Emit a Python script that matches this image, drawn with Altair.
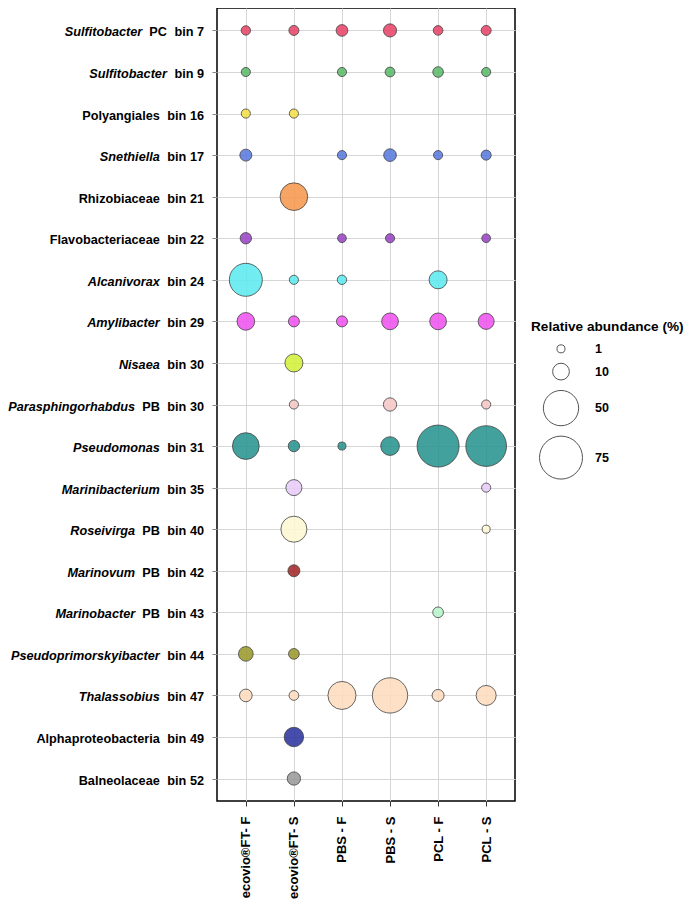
import altair as alt
import pandas as pd

samples = ["ecovio®FT- F", "ecovio®FT- S", "PBS - F", "PBS - S", "PCL - F", "PCL - S"]

names = ["Sulfitobacter", "Sulfitobacter", "Polyangiales", "Snethiella", "Rhizobiaceae",
         "Flavobacteriaceae", "Alcanivorax", "Amylibacter", "Nisaea", "Parasphingorhabdus",
         "Pseudomonas", "Marinibacterium", "Roseivirga", "Marinovum", "Marinobacter",
         "Pseudoprimorskyibacter", "Thalassobius", "Alphaproteobacteria", "Balneolaceae"]
quals = ["PC", "", "", "", "", "", "", "", "", "PB", "", "", "PB", "PB", "PB", "", "", "", ""]
bins = ["bin 7", "bin 9", "bin 16", "bin 17", "bin 21", "bin 22", "bin 24", "bin 29", "bin 30",
        "bin 30", "bin 31", "bin 35", "bin 40", "bin 42", "bin 43", "bin 44", "bin 47", "bin 49", "bin 52"]
italic = [True, True, False, True, False, False, True, True, True, True, True, True, True, True,
          True, True, True, False, False]
colors = ["#E8456A", "#5DBB6C", "#F5E14C", "#5B7CE0", "#F7994F", "#9B46C8", "#5EEAF0", "#EE55EE",
          "#D3F03C", "#F6C8C8", "#2A9590", "#E8CCF8", "#FDF9D3", "#A52A2A", "#B8F6CC", "#9C9A2E",
          "#FDDCBE", "#2E35A0", "#9A9A9A"]

ecovio_ft_f = [2.0, 1.8, 1.8, 4.3, None, 3.7, 43.5, 11.3, None, None, 28.0, None, None, None, None, 7.3, 5.0, None, None]
ecovio_ft_s = [2.5, None, 1.8, None, 30.0, None, 1.8, 3.4, 11.8, 1.8, 3.7, 9.0, 26.4, 4.3, None, 3.1, 2.3, 14.0, 5.7]
pbs_f = [4.0, 1.8, None, 1.8, None, 1.5, 2.0, 3.4, None, None, 1.0, None, None, None, None, None, 31.0, None, None]
pbs_s = [5.5, 2.3, None, 5.0, None, 1.8, None, 10.0, None, 5.7, 12.8, None, None, None, None, None, 50.0, None, None]
pcl_f = [2.2, 3.0, None, 1.8, None, None, 11.8, 10.0, None, None, 71.5, None, None, None, 3.1, None, 4.3, None, None]
pcl_s = [2.5, 1.8, None, 2.5, None, 1.5, None, 9.0, None, 1.8, 67.0, 1.8, 1.0, None, None, None, 15.0, None, None]
series = [ecovio_ft_f, ecovio_ft_s, pbs_f, pbs_s, pcl_f, pcl_s]

legend_values = [1, 10, 50, 75]

keys = [f"{n} {q} {b}".replace("  ", " ") for n, q, b in zip(names, quals, bins)]

rows = []
for s, vals in zip(samples, series):
    for k, v in zip(keys, vals):
        if v is not None:
            rows.append({"taxon": k, "sample": s, "abundance": v})
df = pd.DataFrame(rows)

lab = pd.DataFrame({"taxon": keys, "name": names, "qual": quals, "bin": bins, "italic": italic})

FS = 12.7
W, H = 298, 793
FONT = "Liberation Sans"

yenc = alt.Y("taxon:N", sort=keys, scale=alt.Scale(type="point", padding=0.54),
             axis=alt.Axis(labels=False, title=None, ticks=True, tickSize=5, tickColor="#888",
                           grid=True, gridColor="#d6d6d6", domain=False))

points = alt.Chart(df).mark_circle(opacity=0.88, stroke="#2a2a2a", strokeWidth=0.8).encode(
    x=alt.X("sample:N", sort=samples, scale=alt.Scale(type="point", padding=0.6),
            axis=alt.Axis(title=None, labelAngle=-90, labelFontSize=13, labelFontWeight="bold",
                          labelColor="black", tickSize=5, tickColor="#333", labelPadding=10,
                          grid=True, gridColor="#d6d6d6", domain=False)),
    y=yenc,
    color=alt.Color("taxon:N", scale=alt.Scale(domain=keys, range=colors), legend=None),
    size=alt.Size("abundance:Q",
                  scale=alt.Scale(type="linear", domain=[0, 75], range=[40, 1849]),
                  legend=alt.Legend(title="Relative abundance (%)", values=legend_values,
                                    orient="none", legendX=W + 16, legendY=312,
                                    titleFontSize=13.6, titleFontWeight="bold", titleColor="black",
                                    titlePadding=9, labelFontSize=12.5, labelFontWeight="bold",
                                    labelColor="black", labelOffset=12, rowPadding=5,
                                    symbolFillColor="white", symbolStrokeColor="#555",
                                    symbolStrokeWidth=1, symbolOpacity=1, symbolOffset=8)),
)

base = alt.Chart(lab).transform_calculate(
    binw=f"(1.778 + 0.556*(length(datum.bin)-4))*{FS}",
).transform_calculate(
    lxbin="-13",
    lxqual="-13 - datum.binw - 7.5",
).transform_calculate(
    lxname=f"datum.lxqual - (datum.qual != '' ? 1.389*{FS} + 7 : 0)",
)

ylab = alt.Y("taxon:N", sort=keys)

bin_text = base.mark_text(align="right", baseline="middle", dy=2, fontSize=FS,
                          fontWeight="bold", color="black").encode(
    x=alt.X("lxbin:Q", scale=None, axis=None), y=ylab, text="bin:N")

qual_text = base.transform_filter("datum.qual != ''").mark_text(
    align="right", baseline="middle", dy=2, fontSize=FS, fontWeight="bold", color="black").encode(
    x=alt.X("lxqual:Q", scale=None, axis=None), y=ylab, text="qual:N")

name_it = base.transform_filter("datum.italic").mark_text(
    align="right", baseline="middle", dy=2, fontSize=FS, fontWeight="bold", fontStyle="italic",
    color="black").encode(
    x=alt.X("lxname:Q", scale=None, axis=None), y=ylab, text="name:N")

name_rg = base.transform_filter("!datum.italic").mark_text(
    align="right", baseline="middle", dy=2, fontSize=FS, fontWeight="bold", color="black").encode(
    x=alt.X("lxname:Q", scale=None, axis=None), y=ylab, text="name:N")

chart = alt.layer(points, bin_text, qual_text, name_it, name_rg).resolve_scale(
    x="independent"
).properties(
    width=W, height=H, padding={"left": 0, "top": 0, "right": 0, "bottom": 0}
).configure(font=FONT).configure_view(
    stroke="black", strokeWidth=1.5
)

chart.save("out.html", embed_options={"renderer": "svg", "actions": False})
